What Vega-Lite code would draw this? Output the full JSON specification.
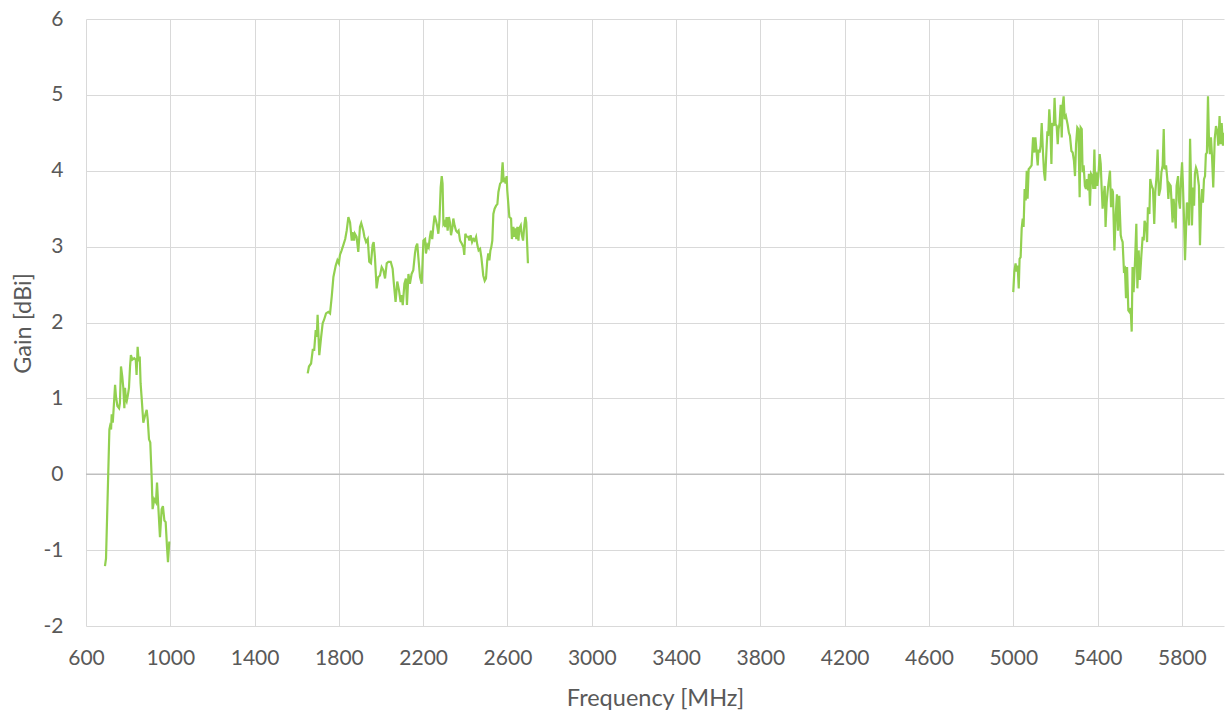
{
  "$schema": "https://vega.github.io/schema/vega-lite/v6.json",
  "width": 1138,
  "height": 607,
  "autosize": "none",
  "padding": {"left": 86, "top": 19, "right": 1, "bottom": 89},
  "background": "white",
  "config": {
    "view": {"stroke": null},
    "font": "Lato"
  },
  "datasets": {
    "gain": [
      {"f": 690, "g": -1.21, "s": "a"},
      {"f": 695, "g": -1.11, "s": "a"},
      {"f": 711, "g": 0.59, "s": "a"},
      {"f": 714, "g": 0.63, "s": "a"},
      {"f": 719, "g": 0.59, "s": "a"},
      {"f": 722, "g": 0.79, "s": "a"},
      {"f": 727, "g": 0.68, "s": "a"},
      {"f": 730, "g": 0.81, "s": "a"},
      {"f": 738, "g": 1.18, "s": "a"},
      {"f": 742, "g": 1.03, "s": "a"},
      {"f": 749, "g": 0.9, "s": "a"},
      {"f": 757, "g": 0.87, "s": "a"},
      {"f": 761, "g": 0.94, "s": "a"},
      {"f": 766, "g": 1.42, "s": "a"},
      {"f": 772, "g": 1.29, "s": "a"},
      {"f": 777, "g": 1.14, "s": "a"},
      {"f": 782, "g": 0.87, "s": "a"},
      {"f": 785, "g": 1.14, "s": "a"},
      {"f": 790, "g": 0.98, "s": "a"},
      {"f": 793, "g": 0.96, "s": "a"},
      {"f": 798, "g": 1.03, "s": "a"},
      {"f": 804, "g": 1.14, "s": "a"},
      {"f": 809, "g": 1.42, "s": "a"},
      {"f": 813, "g": 1.57, "s": "a"},
      {"f": 820, "g": 1.51, "s": "a"},
      {"f": 829, "g": 1.53, "s": "a"},
      {"f": 836, "g": 1.51, "s": "a"},
      {"f": 840, "g": 1.31, "s": "a"},
      {"f": 845, "g": 1.68, "s": "a"},
      {"f": 850, "g": 1.49, "s": "a"},
      {"f": 855, "g": 1.55, "s": "a"},
      {"f": 859, "g": 1.2, "s": "a"},
      {"f": 864, "g": 1.01, "s": "a"},
      {"f": 872, "g": 0.68, "s": "a"},
      {"f": 880, "g": 0.77, "s": "a"},
      {"f": 888, "g": 0.85, "s": "a"},
      {"f": 893, "g": 0.72, "s": "a"},
      {"f": 899, "g": 0.46, "s": "a"},
      {"f": 905, "g": 0.42, "s": "a"},
      {"f": 912, "g": -0.07, "s": "a"},
      {"f": 916, "g": -0.46, "s": "a"},
      {"f": 924, "g": -0.33, "s": "a"},
      {"f": 932, "g": -0.37, "s": "a"},
      {"f": 937, "g": -0.11, "s": "a"},
      {"f": 943, "g": -0.42, "s": "a"},
      {"f": 951, "g": -0.83, "s": "a"},
      {"f": 959, "g": -0.46, "s": "a"},
      {"f": 965, "g": -0.42, "s": "a"},
      {"f": 972, "g": -0.61, "s": "a"},
      {"f": 978, "g": -0.63, "s": "a"},
      {"f": 984, "g": -0.94, "s": "a"},
      {"f": 989, "g": -1.16, "s": "a"},
      {"f": 995, "g": -0.9, "s": "a"},
      {"f": 1000, "g": -0.9, "s": "a"},

      {"f": 1652, "g": 1.33, "s": "b"},
      {"f": 1658, "g": 1.42, "s": "b"},
      {"f": 1668, "g": 1.46, "s": "b"},
      {"f": 1676, "g": 1.64, "s": "b"},
      {"f": 1683, "g": 1.64, "s": "b"},
      {"f": 1690, "g": 1.9, "s": "b"},
      {"f": 1695, "g": 1.81, "s": "b"},
      {"f": 1699, "g": 2.1, "s": "b"},
      {"f": 1707, "g": 1.57, "s": "b"},
      {"f": 1715, "g": 1.79, "s": "b"},
      {"f": 1723, "g": 1.99, "s": "b"},
      {"f": 1729, "g": 2.03, "s": "b"},
      {"f": 1739, "g": 2.12, "s": "b"},
      {"f": 1750, "g": 2.14, "s": "b"},
      {"f": 1758, "g": 2.12, "s": "b"},
      {"f": 1766, "g": 2.34, "s": "b"},
      {"f": 1774, "g": 2.6, "s": "b"},
      {"f": 1785, "g": 2.75, "s": "b"},
      {"f": 1793, "g": 2.82, "s": "b"},
      {"f": 1800, "g": 2.78, "s": "b"},
      {"f": 1805, "g": 2.89, "s": "b"},
      {"f": 1813, "g": 2.95, "s": "b"},
      {"f": 1821, "g": 3.02, "s": "b"},
      {"f": 1830, "g": 3.1, "s": "b"},
      {"f": 1837, "g": 3.21, "s": "b"},
      {"f": 1845, "g": 3.39, "s": "b"},
      {"f": 1853, "g": 3.32, "s": "b"},
      {"f": 1861, "g": 3.08, "s": "b"},
      {"f": 1865, "g": 3.19, "s": "b"},
      {"f": 1872, "g": 3.08, "s": "b"},
      {"f": 1876, "g": 3.17, "s": "b"},
      {"f": 1884, "g": 3.13, "s": "b"},
      {"f": 1892, "g": 2.93, "s": "b"},
      {"f": 1900, "g": 3.26, "s": "b"},
      {"f": 1906, "g": 3.31, "s": "b"},
      {"f": 1916, "g": 3.21, "s": "b"},
      {"f": 1921, "g": 3.13, "s": "b"},
      {"f": 1929, "g": 3.06, "s": "b"},
      {"f": 1937, "g": 3.1, "s": "b"},
      {"f": 1944, "g": 2.8, "s": "b"},
      {"f": 1952, "g": 2.78, "s": "b"},
      {"f": 1960, "g": 3.02, "s": "b"},
      {"f": 1965, "g": 3.06, "s": "b"},
      {"f": 1971, "g": 2.86, "s": "b"},
      {"f": 1979, "g": 2.45, "s": "b"},
      {"f": 1987, "g": 2.6, "s": "b"},
      {"f": 1995, "g": 2.62, "s": "b"},
      {"f": 2003, "g": 2.73, "s": "b"},
      {"f": 2011, "g": 2.69, "s": "b"},
      {"f": 2019, "g": 2.58, "s": "b"},
      {"f": 2027, "g": 2.78, "s": "b"},
      {"f": 2035, "g": 2.8, "s": "b"},
      {"f": 2046, "g": 2.8, "s": "b"},
      {"f": 2055, "g": 2.71, "s": "b"},
      {"f": 2061, "g": 2.51, "s": "b"},
      {"f": 2069, "g": 2.27, "s": "b"},
      {"f": 2077, "g": 2.54, "s": "b"},
      {"f": 2085, "g": 2.43, "s": "b"},
      {"f": 2093, "g": 2.27, "s": "b"},
      {"f": 2098, "g": 2.36, "s": "b"},
      {"f": 2103, "g": 2.23, "s": "b"},
      {"f": 2111, "g": 2.51, "s": "b"},
      {"f": 2118, "g": 2.58, "s": "b"},
      {"f": 2123, "g": 2.23, "s": "b"},
      {"f": 2130, "g": 2.64, "s": "b"},
      {"f": 2137, "g": 2.51, "s": "b"},
      {"f": 2145, "g": 2.64, "s": "b"},
      {"f": 2153, "g": 2.69, "s": "b"},
      {"f": 2161, "g": 2.91, "s": "b"},
      {"f": 2166, "g": 3.0, "s": "b"},
      {"f": 2172, "g": 3.04, "s": "b"},
      {"f": 2177, "g": 2.86, "s": "b"},
      {"f": 2185, "g": 2.6, "s": "b"},
      {"f": 2193, "g": 2.51, "s": "b"},
      {"f": 2201, "g": 3.08, "s": "b"},
      {"f": 2209, "g": 3.1, "s": "b"},
      {"f": 2213, "g": 2.91, "s": "b"},
      {"f": 2220, "g": 3.02, "s": "b"},
      {"f": 2226, "g": 2.99, "s": "b"},
      {"f": 2232, "g": 3.13, "s": "b"},
      {"f": 2237, "g": 3.21, "s": "b"},
      {"f": 2243, "g": 3.1, "s": "b"},
      {"f": 2248, "g": 3.26, "s": "b"},
      {"f": 2254, "g": 3.41, "s": "b"},
      {"f": 2261, "g": 3.34, "s": "b"},
      {"f": 2267, "g": 3.26, "s": "b"},
      {"f": 2272, "g": 3.17, "s": "b"},
      {"f": 2277, "g": 3.34, "s": "b"},
      {"f": 2283, "g": 3.78, "s": "b"},
      {"f": 2288, "g": 3.93, "s": "b"},
      {"f": 2292, "g": 3.83, "s": "b"},
      {"f": 2296, "g": 3.3, "s": "b"},
      {"f": 2300, "g": 3.32, "s": "b"},
      {"f": 2305, "g": 3.26, "s": "b"},
      {"f": 2311, "g": 3.39, "s": "b"},
      {"f": 2316, "g": 3.21, "s": "b"},
      {"f": 2322, "g": 3.39, "s": "b"},
      {"f": 2327, "g": 3.32, "s": "b"},
      {"f": 2332, "g": 3.15, "s": "b"},
      {"f": 2338, "g": 3.24, "s": "b"},
      {"f": 2343, "g": 3.37, "s": "b"},
      {"f": 2349, "g": 3.28, "s": "b"},
      {"f": 2356, "g": 3.21, "s": "b"},
      {"f": 2362, "g": 3.19, "s": "b"},
      {"f": 2368, "g": 3.21, "s": "b"},
      {"f": 2375, "g": 3.08, "s": "b"},
      {"f": 2383, "g": 3.04, "s": "b"},
      {"f": 2391, "g": 2.99, "s": "b"},
      {"f": 2395, "g": 2.89, "s": "b"},
      {"f": 2400, "g": 3.17, "s": "b"},
      {"f": 2406, "g": 3.13, "s": "b"},
      {"f": 2414, "g": 3.13, "s": "b"},
      {"f": 2419, "g": 3.08, "s": "b"},
      {"f": 2425, "g": 3.15, "s": "b"},
      {"f": 2432, "g": 3.06, "s": "b"},
      {"f": 2438, "g": 3.1, "s": "b"},
      {"f": 2444, "g": 3.08, "s": "b"},
      {"f": 2451, "g": 3.13, "s": "b"},
      {"f": 2457, "g": 3.02, "s": "b"},
      {"f": 2463, "g": 2.95, "s": "b"},
      {"f": 2470, "g": 2.97, "s": "b"},
      {"f": 2476, "g": 2.86, "s": "b"},
      {"f": 2481, "g": 2.73, "s": "b"},
      {"f": 2485, "g": 2.62, "s": "b"},
      {"f": 2492, "g": 2.55, "s": "b"},
      {"f": 2498, "g": 2.58, "s": "b"},
      {"f": 2504, "g": 2.82, "s": "b"},
      {"f": 2509, "g": 2.91, "s": "b"},
      {"f": 2514, "g": 2.82, "s": "b"},
      {"f": 2519, "g": 2.95, "s": "b"},
      {"f": 2523, "g": 2.99, "s": "b"},
      {"f": 2528, "g": 3.08, "s": "b"},
      {"f": 2533, "g": 3.43, "s": "b"},
      {"f": 2539, "g": 3.5, "s": "b"},
      {"f": 2546, "g": 3.54, "s": "b"},
      {"f": 2552, "g": 3.56, "s": "b"},
      {"f": 2557, "g": 3.72, "s": "b"},
      {"f": 2565, "g": 3.83, "s": "b"},
      {"f": 2571, "g": 3.85, "s": "b"},
      {"f": 2574, "g": 4.0, "s": "b"},
      {"f": 2577, "g": 4.11, "s": "b"},
      {"f": 2582, "g": 3.85, "s": "b"},
      {"f": 2587, "g": 3.91, "s": "b"},
      {"f": 2591, "g": 3.83, "s": "b"},
      {"f": 2596, "g": 3.93, "s": "b"},
      {"f": 2599, "g": 3.74, "s": "b"},
      {"f": 2604, "g": 3.56, "s": "b"},
      {"f": 2609, "g": 3.39, "s": "b"},
      {"f": 2617, "g": 3.37, "s": "b"},
      {"f": 2621, "g": 3.1, "s": "b"},
      {"f": 2628, "g": 3.26, "s": "b"},
      {"f": 2633, "g": 3.13, "s": "b"},
      {"f": 2637, "g": 3.24, "s": "b"},
      {"f": 2642, "g": 3.1, "s": "b"},
      {"f": 2647, "g": 3.26, "s": "b"},
      {"f": 2652, "g": 3.08, "s": "b"},
      {"f": 2656, "g": 3.24, "s": "b"},
      {"f": 2663, "g": 3.28, "s": "b"},
      {"f": 2667, "g": 3.17, "s": "b"},
      {"f": 2674, "g": 3.08, "s": "b"},
      {"f": 2680, "g": 3.28, "s": "b"},
      {"f": 2685, "g": 3.39, "s": "b"},
      {"f": 2689, "g": 3.32, "s": "b"},
      {"f": 2694, "g": 2.99, "s": "b"},
      {"f": 2697, "g": 2.78, "s": "b"},

      {"f": 5000, "g": 2.4, "s": "c"},
      {"f": 5005, "g": 2.67, "s": "c"},
      {"f": 5011, "g": 2.78, "s": "c"},
      {"f": 5016, "g": 2.67, "s": "c"},
      {"f": 5021, "g": 2.75, "s": "c"},
      {"f": 5026, "g": 2.45, "s": "c"},
      {"f": 5030, "g": 2.84, "s": "c"},
      {"f": 5035, "g": 2.86, "s": "c"},
      {"f": 5040, "g": 3.24, "s": "c"},
      {"f": 5045, "g": 3.37, "s": "c"},
      {"f": 5049, "g": 3.26, "s": "c"},
      {"f": 5054, "g": 3.76, "s": "c"},
      {"f": 5059, "g": 3.61, "s": "c"},
      {"f": 5064, "g": 4.0, "s": "c"},
      {"f": 5068, "g": 3.63, "s": "c"},
      {"f": 5073, "g": 4.02, "s": "c"},
      {"f": 5079, "g": 4.04, "s": "c"},
      {"f": 5087, "g": 4.07, "s": "c"},
      {"f": 5094, "g": 4.44, "s": "c"},
      {"f": 5100, "g": 4.24, "s": "c"},
      {"f": 5105, "g": 4.44, "s": "c"},
      {"f": 5111, "g": 4.24, "s": "c"},
      {"f": 5116, "g": 4.07, "s": "c"},
      {"f": 5120, "g": 4.28, "s": "c"},
      {"f": 5125, "g": 4.24, "s": "c"},
      {"f": 5130, "g": 4.33, "s": "c"},
      {"f": 5135, "g": 4.63, "s": "c"},
      {"f": 5141, "g": 4.24, "s": "c"},
      {"f": 5146, "g": 3.98, "s": "c"},
      {"f": 5151, "g": 3.87, "s": "c"},
      {"f": 5157, "g": 4.24, "s": "c"},
      {"f": 5162, "g": 4.52, "s": "c"},
      {"f": 5166, "g": 4.46, "s": "c"},
      {"f": 5171, "g": 4.81, "s": "c"},
      {"f": 5176, "g": 4.59, "s": "c"},
      {"f": 5181, "g": 4.09, "s": "c"},
      {"f": 5185, "g": 4.63, "s": "c"},
      {"f": 5192, "g": 4.59, "s": "c"},
      {"f": 5196, "g": 4.96, "s": "c"},
      {"f": 5201, "g": 4.61, "s": "c"},
      {"f": 5206, "g": 4.59, "s": "c"},
      {"f": 5211, "g": 4.35, "s": "c"},
      {"f": 5215, "g": 4.55, "s": "c"},
      {"f": 5220, "g": 4.63, "s": "c"},
      {"f": 5225, "g": 4.87, "s": "c"},
      {"f": 5230, "g": 4.44, "s": "c"},
      {"f": 5234, "g": 4.85, "s": "c"},
      {"f": 5239, "g": 4.98, "s": "c"},
      {"f": 5244, "g": 4.68, "s": "c"},
      {"f": 5250, "g": 4.72, "s": "c"},
      {"f": 5258, "g": 4.61, "s": "c"},
      {"f": 5264, "g": 4.5, "s": "c"},
      {"f": 5269, "g": 4.46, "s": "c"},
      {"f": 5276, "g": 4.26, "s": "c"},
      {"f": 5282, "g": 4.24, "s": "c"},
      {"f": 5288, "g": 4.13, "s": "c"},
      {"f": 5293, "g": 3.93, "s": "c"},
      {"f": 5298, "g": 4.35, "s": "c"},
      {"f": 5304, "g": 4.57, "s": "c"},
      {"f": 5309, "g": 4.55, "s": "c"},
      {"f": 5315, "g": 3.65, "s": "c"},
      {"f": 5320, "g": 4.57, "s": "c"},
      {"f": 5325, "g": 4.55, "s": "c"},
      {"f": 5329, "g": 3.98, "s": "c"},
      {"f": 5334, "g": 4.07, "s": "c"},
      {"f": 5340, "g": 3.8, "s": "c"},
      {"f": 5345, "g": 3.76, "s": "c"},
      {"f": 5350, "g": 3.89, "s": "c"},
      {"f": 5355, "g": 3.74, "s": "c"},
      {"f": 5359, "g": 3.96, "s": "c"},
      {"f": 5364, "g": 3.54, "s": "c"},
      {"f": 5369, "g": 3.96, "s": "c"},
      {"f": 5375, "g": 3.93, "s": "c"},
      {"f": 5380, "g": 3.76, "s": "c"},
      {"f": 5385, "g": 4.28, "s": "c"},
      {"f": 5389, "g": 3.76, "s": "c"},
      {"f": 5394, "g": 3.98, "s": "c"},
      {"f": 5399, "g": 3.8, "s": "c"},
      {"f": 5404, "g": 3.93, "s": "c"},
      {"f": 5410, "g": 4.22, "s": "c"},
      {"f": 5415, "g": 4.09, "s": "c"},
      {"f": 5419, "g": 3.8, "s": "c"},
      {"f": 5424, "g": 3.5, "s": "c"},
      {"f": 5429, "g": 3.67, "s": "c"},
      {"f": 5434, "g": 3.8, "s": "c"},
      {"f": 5438, "g": 3.26, "s": "c"},
      {"f": 5443, "g": 3.58, "s": "c"},
      {"f": 5449, "g": 3.76, "s": "c"},
      {"f": 5459, "g": 4.0, "s": "c"},
      {"f": 5464, "g": 3.52, "s": "c"},
      {"f": 5468, "g": 3.76, "s": "c"},
      {"f": 5473, "g": 3.72, "s": "c"},
      {"f": 5480, "g": 2.95, "s": "c"},
      {"f": 5486, "g": 3.41, "s": "c"},
      {"f": 5492, "g": 3.69, "s": "c"},
      {"f": 5497, "g": 3.21, "s": "c"},
      {"f": 5503, "g": 3.67, "s": "c"},
      {"f": 5510, "g": 3.15, "s": "c"},
      {"f": 5514, "g": 3.1, "s": "c"},
      {"f": 5519, "g": 3.06, "s": "c"},
      {"f": 5525, "g": 2.69, "s": "c"},
      {"f": 5530, "g": 2.71, "s": "c"},
      {"f": 5535, "g": 2.32, "s": "c"},
      {"f": 5540, "g": 2.73, "s": "c"},
      {"f": 5546, "g": 2.16, "s": "c"},
      {"f": 5551, "g": 2.14, "s": "c"},
      {"f": 5557, "g": 2.19, "s": "c"},
      {"f": 5562, "g": 1.88, "s": "c"},
      {"f": 5566, "g": 2.73, "s": "c"},
      {"f": 5571, "g": 2.4, "s": "c"},
      {"f": 5578, "g": 2.82, "s": "c"},
      {"f": 5584, "g": 3.3, "s": "c"},
      {"f": 5589, "g": 2.45, "s": "c"},
      {"f": 5595, "g": 2.95, "s": "c"},
      {"f": 5601, "g": 2.56, "s": "c"},
      {"f": 5608, "g": 2.89, "s": "c"},
      {"f": 5614, "g": 3.13, "s": "c"},
      {"f": 5619, "g": 3.08, "s": "c"},
      {"f": 5623, "g": 3.34, "s": "c"},
      {"f": 5630, "g": 3.28, "s": "c"},
      {"f": 5635, "g": 3.06, "s": "c"},
      {"f": 5639, "g": 3.52, "s": "c"},
      {"f": 5646, "g": 3.43, "s": "c"},
      {"f": 5650, "g": 3.89, "s": "c"},
      {"f": 5657, "g": 3.8, "s": "c"},
      {"f": 5663, "g": 3.76, "s": "c"},
      {"f": 5669, "g": 3.3, "s": "c"},
      {"f": 5674, "g": 3.72, "s": "c"},
      {"f": 5680, "g": 3.93, "s": "c"},
      {"f": 5685, "g": 4.28, "s": "c"},
      {"f": 5691, "g": 3.67, "s": "c"},
      {"f": 5698, "g": 3.76, "s": "c"},
      {"f": 5703, "g": 3.98, "s": "c"},
      {"f": 5709, "g": 4.07, "s": "c"},
      {"f": 5714, "g": 4.55, "s": "c"},
      {"f": 5718, "g": 4.02, "s": "c"},
      {"f": 5725, "g": 4.07, "s": "c"},
      {"f": 5731, "g": 3.89, "s": "c"},
      {"f": 5736, "g": 3.63, "s": "c"},
      {"f": 5740, "g": 3.83, "s": "c"},
      {"f": 5747, "g": 3.8, "s": "c"},
      {"f": 5752, "g": 3.54, "s": "c"},
      {"f": 5756, "g": 3.32, "s": "c"},
      {"f": 5761, "g": 3.63, "s": "c"},
      {"f": 5766, "g": 3.45, "s": "c"},
      {"f": 5771, "g": 3.24, "s": "c"},
      {"f": 5775, "g": 3.8, "s": "c"},
      {"f": 5782, "g": 3.93, "s": "c"},
      {"f": 5786, "g": 3.61, "s": "c"},
      {"f": 5791, "g": 3.5, "s": "c"},
      {"f": 5796, "g": 3.87, "s": "c"},
      {"f": 5801, "g": 4.11, "s": "c"},
      {"f": 5805, "g": 3.83, "s": "c"},
      {"f": 5810, "g": 3.39, "s": "c"},
      {"f": 5815, "g": 2.82, "s": "c"},
      {"f": 5820, "g": 3.24, "s": "c"},
      {"f": 5824, "g": 3.58, "s": "c"},
      {"f": 5829, "g": 3.54, "s": "c"},
      {"f": 5834, "g": 3.28, "s": "c"},
      {"f": 5839, "g": 4.42, "s": "c"},
      {"f": 5843, "g": 3.93, "s": "c"},
      {"f": 5848, "g": 3.28, "s": "c"},
      {"f": 5853, "g": 3.78, "s": "c"},
      {"f": 5858, "g": 3.54, "s": "c"},
      {"f": 5862, "g": 3.96, "s": "c"},
      {"f": 5867, "g": 4.04, "s": "c"},
      {"f": 5872, "g": 4.0, "s": "c"},
      {"f": 5877, "g": 3.89, "s": "c"},
      {"f": 5881, "g": 3.8, "s": "c"},
      {"f": 5886, "g": 3.02, "s": "c"},
      {"f": 5891, "g": 3.54, "s": "c"},
      {"f": 5896, "g": 3.76, "s": "c"},
      {"f": 5900, "g": 3.58, "s": "c"},
      {"f": 5905, "g": 3.89, "s": "c"},
      {"f": 5910, "g": 3.93, "s": "c"},
      {"f": 5914, "g": 4.22, "s": "c"},
      {"f": 5919, "g": 4.24, "s": "c"},
      {"f": 5924, "g": 4.98, "s": "c"},
      {"f": 5929, "g": 4.37, "s": "c"},
      {"f": 5933, "g": 4.22, "s": "c"},
      {"f": 5938, "g": 4.44, "s": "c"},
      {"f": 5943, "g": 4.2, "s": "c"},
      {"f": 5949, "g": 3.78, "s": "c"},
      {"f": 5956, "g": 4.42, "s": "c"},
      {"f": 5962, "g": 4.59, "s": "c"},
      {"f": 5968, "g": 4.52, "s": "c"},
      {"f": 5973, "g": 4.33, "s": "c"},
      {"f": 5979, "g": 4.72, "s": "c"},
      {"f": 5984, "g": 4.35, "s": "c"},
      {"f": 5989, "g": 4.63, "s": "c"},
      {"f": 5995, "g": 4.33, "s": "c"},
      {"f": 6000, "g": 4.5, "s": "c"}
    ]
  },
  "layer": [
    {
      "data": {"values": [{"z": 0}]},
      "mark": {"type": "rule", "color": "#bfbfbf", "strokeWidth": 1.3},
      "encoding": {
        "y": {"field": "z", "type": "quantitative", "scale": {"domain": [-2, 6]}}
      }
    },
    {
      "data": {"name": "gain"},
      "mark": {"type": "line", "color": "#92D050", "strokeWidth": 2.2, "clip": true},
      "encoding": {
        "x": {
          "field": "f", "type": "quantitative",
          "scale": {"domain": [600, 6000], "nice": false, "zero": false},
          "axis": {
            "title": "Frequency [MHz]",
            "values": [600, 1000, 1400, 1800, 2200, 2600, 3000, 3400, 3800, 4200, 4600, 5000, 5400, 5800],
            "labelExpr": "toString(datum.value)",
            "domain": false, "ticks": false,
            "grid": true, "gridColor": "#d9d9d9", "gridWidth": 1,
            "labelFont": "Lato", "labelFontSize": 21, "labelColor": "#595959", "labelPadding": 21,
            "labelFlush": false, "labelOverlap": false,
            "titleFont": "Lato", "titleFontSize": 23.5, "titleFontWeight": "normal", "titleColor": "#595959",
            "titleBaseline": "alphabetic", "titleY": 79
          }
        },
        "y": {
          "field": "g", "type": "quantitative",
          "scale": {"domain": [-2, 6], "nice": false, "zero": false},
          "axis": {
            "title": "Gain [dBi]",
            "values": [-2, -1, 0, 1, 2, 3, 4, 5, 6],
            "labelExpr": "toString(datum.value)",
            "domain": false, "ticks": false,
            "grid": true, "gridColor": "#d9d9d9", "gridWidth": 1,
            "labelFont": "Lato", "labelFontSize": 21, "labelColor": "#595959", "labelPadding": 23,
            "labelFlush": false, "labelOverlap": false,
            "titleFont": "Lato", "titleFontSize": 23.5, "titleFontWeight": "normal", "titleColor": "#595959",
            "titleAngle": -90, "titleBaseline": "alphabetic", "titleAlign": "center", "titleX": -56, "titleY": 304
          }
        },
        "detail": {"field": "s", "type": "nominal"}
      }
    }
  ]
}
